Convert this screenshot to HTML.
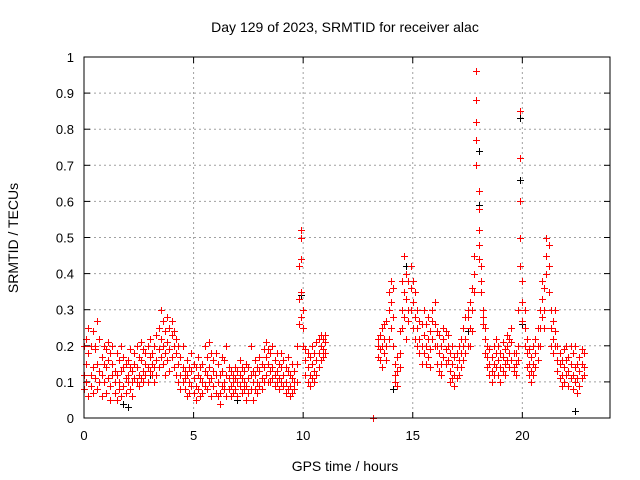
<!DOCTYPE html>
<html><head><meta charset="utf-8"><style>
html,body{margin:0;padding:0;background:#fff;}
svg{display:block;font-family:"Liberation Sans",sans-serif;}
</style></head><body>
<svg id="chart" width="640" height="480" xmlns="http://www.w3.org/2000/svg">
<rect width="640" height="480" fill="#fff"/>
<text x="345" y="32" font-size="14" text-anchor="middle">Day 129 of 2023, SRMTID for receiver alac</text>
<text x="345" y="471" font-size="14" text-anchor="middle">GPS time / hours</text>
<text x="18" y="238" font-size="14" text-anchor="middle" transform="rotate(-90 18 238)">SRMTID / TECUs</text>
<g id="grid"></g>
<g id="ticks"></g>
<g id="black" shape-rendering="crispEdges"></g>
<g id="red" shape-rendering="crispEdges"></g>
<rect x="84" y="57" width="526" height="361" fill="none" stroke="#000" stroke-width="1"/>
</svg>
<script>
const xTicks=[0,5,10,15,20];
const yTicks=[0,0.1,0.2,0.3,0.4,0.5,0.6,0.7,0.8,0.9,1];
const yTickLabels=["0","0.1","0.2","0.3","0.4","0.5","0.6","0.7","0.8","0.9","1"];
const redT=[0.0,0.1,0.2,0.3,0.4,0.5,0.6,0.7,0.8,0.9,1.0,1.1,1.2,1.3,1.4,1.5,1.6,1.7,1.8,1.9,2.0,2.1,2.2,2.3,2.4,2.5,2.6,2.7,2.8,2.9,3.0,3.1,3.2,3.3,3.4,3.5,3.6,3.7,3.8,3.9,4.0,4.1,4.2,4.3,4.4,4.5,4.6,4.7,4.8,4.9,5.0,5.1,5.2,5.3,5.4,5.5,5.6,5.7,5.8,5.9,6.0,6.1,6.2,6.3,6.4,6.5,6.6,6.7,6.8,6.9,7.0,7.1,7.2,7.3,7.4,7.5,7.6,7.7,7.8,7.9,8.0,8.1,8.2,8.3,8.4,8.5,8.6,8.7,8.8,8.9,9.0,9.1,9.2,9.3,9.4,9.5,9.6,9.7,9.8,9.9,10.0,10.1,10.2,10.3,10.4,10.5,10.6,10.7,10.8,10.9,11.0,
13.2,13.4,13.5,13.6,13.7,13.8,13.9,14.0,14.1,14.2,14.3,14.4,14.5,14.6,14.7,14.8,14.9,15.0,15.1,15.2,15.3,15.4,15.5,15.6,15.7,15.8,15.9,16.0,16.1,16.2,16.3,16.4,16.5,16.6,16.7,16.8,16.9,17.0,17.1,17.2,17.3,17.4,17.5,17.6,17.7,17.8,17.9,18.0,18.1,18.2,18.3,18.4,18.5,18.6,18.7,18.8,18.9,19.0,19.1,19.2,19.3,19.4,19.5,19.6,19.7,19.8,19.9,20.0,20.1,20.2,20.3,20.4,20.5,20.6,20.7,20.8,20.9,21.0,21.1,21.2,21.3,21.4,21.5,21.6,21.7,21.8,21.9,22.0,22.1,22.2,22.3,22.4,22.5,22.6,22.7,22.8];
const redV=[[.12,.2,.08],[.15,.1,.22],[.06,.18,.25],[.12,.2,.09],[.24,.14,.07],[.19,.11,.2],[.08,.15,.27],[.13,.22,.1],[.17,.06,.12],[.2,.1,.15],[.14,.07,.19],[.11,.21,.16],[.09,.18,.05],[.15,.12,.2],[.07,.13,.1],[.18,.05,.12],[.1,.16,.08],[.06,.2,.13],[.14,.09,.17],[.11,.07,.15],[.16,.1,.12],[.08,.14,.19],[.13,.06,.1],[.15,.18,.11],[.1,.2,.14],[.12,.17,.09],[.16,.11,.21],[.13,.19,.1],[.18,.12,.15],[.1,.2,.14],[.17,.13,.22],[.12,.18,.15],[.2,.14,.1],[.16,.23,.12],[.25,.19,.14],[.3,.22,.17],[.27,.2,.15],[.24,.18,.12],[.21,.28,.16],[.19,.25,.13],[.23,.17,.27],[.2,.14,.24],[.18,.12,.22],[.15,.1,.2],[.12,.17,.08],[.1,.14,.2],[.08,.13,.11],[.12,.06,.16],[.1,.14,.07],[.13,.09,.18],[.11,.07,.15],[.09,.14,.05],[.12,.08,.17],[.06,.11,.14],[.1,.15,.07],[.13,.2,.09],[.08,.17,.12],[.14,.21,.1],[.11,.06,.18],[.16,.09,.13],[.12,.18,.07],[.1,.15,.06],[.07,.12,.04],[.13,.09,.17],[.1,.16,.08],[.06,.12,.2],[.11,.08,.14],[.09,.13,.06],[.12,.07,.1],[.08,.14,.11],[.1,.06,.13],[.12,.09,.16],[.07,.11,.14],[.13,.08,.1],[.09,.15,.05],[.11,.07,.14],[.08,.12,.2],[.05,.1,.13],[.12,.08,.16],[.1,.14,.07],[.13,.09,.17],[.11,.15,.08],[.14,.19,.1],[.12,.17,.21],[.15,.1,.19],[.18,.13,.1],[.14,.2,.11],[.16,.12,.09],[.13,.18,.1],[.11,.15,.08],[.14,.1,.18],[.12,.16,.09],[.1,.14,.07],[.13,.08,.17],[.09,.12,.06],[.11,.07,.15],[.08,.13,.1],[.15,.1,.2],[.33,.42,.26],[.52,.5,.44,.35,.28],[.25,.2,.3],[.16,.12,.19],[.14,.1,.18],[.12,.17,.09],[.15,.11,.2],[.13,.18,.1],[.16,.21,.12],[.18,.14,.22],[.2,.16,.23],[.19,.22,.17],[.21,.18,.23],
[0],[.2,.17,.22],[.23,.19,.16],[.25,.2,.14],[.22,.18,.26],[.2,.27,.16],[.3,.35,.22],[.38,.32,.25],[.28,.36,.2],[.15,.1,.12],[.13,.09,.17],[.18,.24,.14],[.3,.38,.25],[.35,.45,.28],[.33,.4,.22],[.38,.3,.27],[.36,.42,.3],[.32,.38,.25],[.28,.22,.35],[.25,.2,.3],[.22,.27,.18],[.2,.15,.26],[.3,.23,.18],[.26,.2,.15],[.22,.17,.28],[.24,.19,.14],[.3,.22,.27],[.26,.32,.2],[.2,.15,.24],[.18,.23,.13],[.15,.2,.12],[.22,.17,.25],[.24,.19,.15],[.2,.16,.23],[.13,.18,.1],[.15,.11,.2],[.12,.17,.09],[.14,.18,.11],[.16,.12,.2],[.18,.22,.14],[.2,.25,.16],[.22,.28,.18],[.28,.3,.2],[.25,.32,.2],[.3,.36,.24],[.4,.45,.35],[.96,.88,.82,.77,.7],[.63,.58,.52,.48,.44],[.42,.38,.35],[.3,.26,.28],[.22,.18,.25],[.17,.14,.2],[.15,.12,.19],[.13,.17,.1],[.15,.2,.12],[.18,.14,.22],[.16,.12,.2],[.14,.1,.18],[.17,.13,.21],[.15,.19,.12],[.2,.16,.23],[.18,.14,.22],[.21,.16,.25],[.18,.14,.13],[.15,.12,.18],[.2,.3,.16],[.85,.72,.6,.5,.42],[.38,.32,.27],[.25,.2,.3],[.18,.14,.22],[.15,.12,.19],[.13,.17,.1],[.15,.12,.2],[.18,.14,.22],[.2,.25,.16],[.25,.3,.2],[.33,.38,.28],[.36,.3,.25],[.5,.45,.4],[.48,.42,.35],[.3,.25,.2],[.22,.18,.27],[.3,.24,.2],[.2,.16,.13],[.15,.11,.18],[.12,.09,.16],[.14,.1,.19],[.16,.12,.2],[.13,.09,.17],[.15,.11,.2],[.12,.08,.18],[.14,.1,.2],[.11,.07,.15],[.13,.17,.09],[.15,.11,.19],[.14,.18,.12]];
const blackT=[1.8,2.0,3.0,7.0,9.9,14.1,14.7,17.5,18.0,18.0,19.9,19.9,19.9,20.0,22.4];
const blackV=[.04,.03,.12,.05,.34,.08,.42,.24,.74,.59,.83,.66,.6,.26,.02];
const X0=84,X1=610,Y0=418,Y1=57,XMAX=24;
const xs=v=>X0+(v/XMAX)*(X1-X0);
const ys=v=>Y0-v*(Y0-Y1);
const NS="http://www.w3.org/2000/svg";
function mk(tag,attrs,parent){const e=document.createElementNS(NS,tag);for(const k in attrs)e.setAttribute(k,attrs[k]);parent.appendChild(e);return e;}
const grid=document.getElementById('grid'),ticks=document.getElementById('ticks');
xTicks.forEach(t=>{const x=xs(t);
 if(t>0){const g=mk('line',{x1:x,x2:x,y1:Y1,y2:Y0,stroke:'#a0a0a0','stroke-dasharray':'2,3','stroke-width':1},grid);
 
 }
 mk('line',{x1:x,x2:x,y1:Y0,y2:Y0-6,stroke:'#000'},ticks);
 mk('line',{x1:x,x2:x,y1:Y1,y2:Y1+6,stroke:'#000'},ticks);
 const l=mk('text',{x:x,y:Y0+22,'font-size':13,'text-anchor':'middle'},ticks);l.textContent=String(t);
 
 
});
yTicks.forEach((t,i)=>{const y=ys(t);
 if(i>0&&i<yTicks.length-1){const g=mk('line',{x1:X0,x2:X1,y1:y,y2:y,stroke:'#a0a0a0','stroke-dasharray':'2,3','stroke-width':1},grid);
 
 }
 mk('line',{x1:X0,x2:X0+6,y1:y,y2:y,stroke:'#000'},ticks);
 mk('line',{x1:X1,x2:X1-6,y1:y,y2:y,stroke:'#000'},ticks);
 const l=mk('text',{x:X0-10,y:y+5,'font-size':13,'text-anchor':'end'},ticks);l.textContent=yTickLabels[i];
 
 
});
function plus(parent,t,v,col){const x=Math.round(xs(t)),y=Math.round(ys(v));
 const h=mk('rect',{x:x-3,y:y,width:7,height:1,fill:col},parent);
 
 
 const w=mk('rect',{x:x,y:y-3,width:1,height:7,fill:col},parent);
 
 }
const gb=document.getElementById('black'),gr=document.getElementById('red');
blackT.forEach((t,i)=>plus(gb,t,blackV[i],'#000000'));
redT.forEach((t,i)=>redV[i].forEach(v=>plus(gr,t,v,'#ff0000')));
</script>
</body></html>
